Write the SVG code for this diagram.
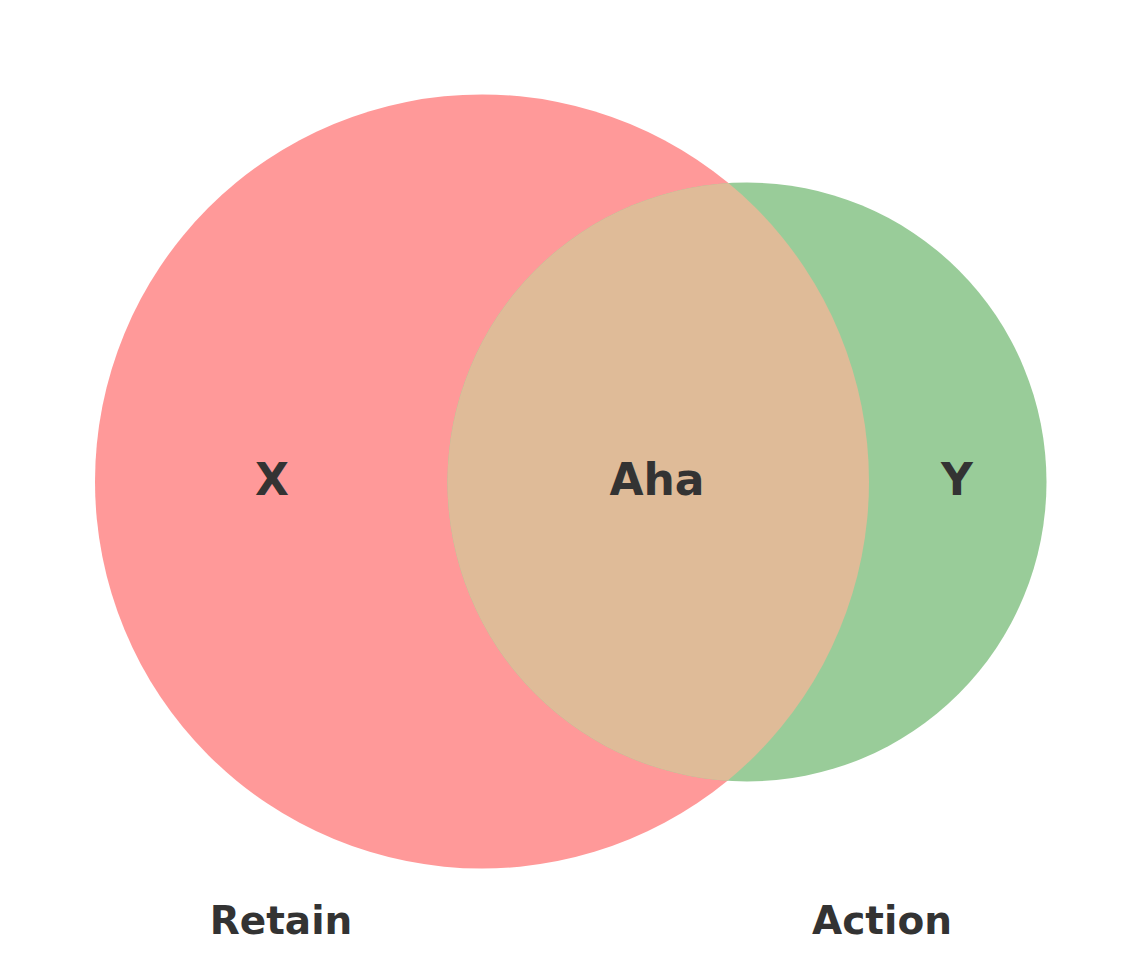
<svg xmlns="http://www.w3.org/2000/svg" width="1141" height="964" viewBox="0 0 1141 964">
  <style>
    .lbl { font-family: "DejaVu Sans", "Liberation Sans", sans-serif; font-weight: bold; fill: #333333; text-anchor: middle; }
    .big { font-size: 44px; }
    .set { font-size: 39px; }
  </style>
  <defs>
    <clipPath id="clipGreen">
      <circle cx="747" cy="482" r="299.5"/>
    </clipPath>
  </defs>
  <rect width="1141" height="964" fill="#ffffff"/>
  <g id="setX">
    <circle cx="482" cy="481.5" r="387" fill="#ff9999"/>
  </g>
  <g id="setY">
    <circle cx="747" cy="482" r="299.5" fill="#99cc99"/>
  </g>
  <g id="overlap">
    <circle cx="482" cy="481.5" r="387" fill="#dfbb98" clip-path="url(#clipGreen)"/>
  </g>
  <g id="labels">
    <text class="lbl big" x="272" y="495">X</text>
    <text class="lbl big" x="657" y="495">Aha</text>
    <text class="lbl big" x="957" y="495">Y</text>
    <text class="lbl set" x="281" y="934">Retain</text>
    <text class="lbl set" x="882" y="934">Action</text>
  </g>
</svg>
